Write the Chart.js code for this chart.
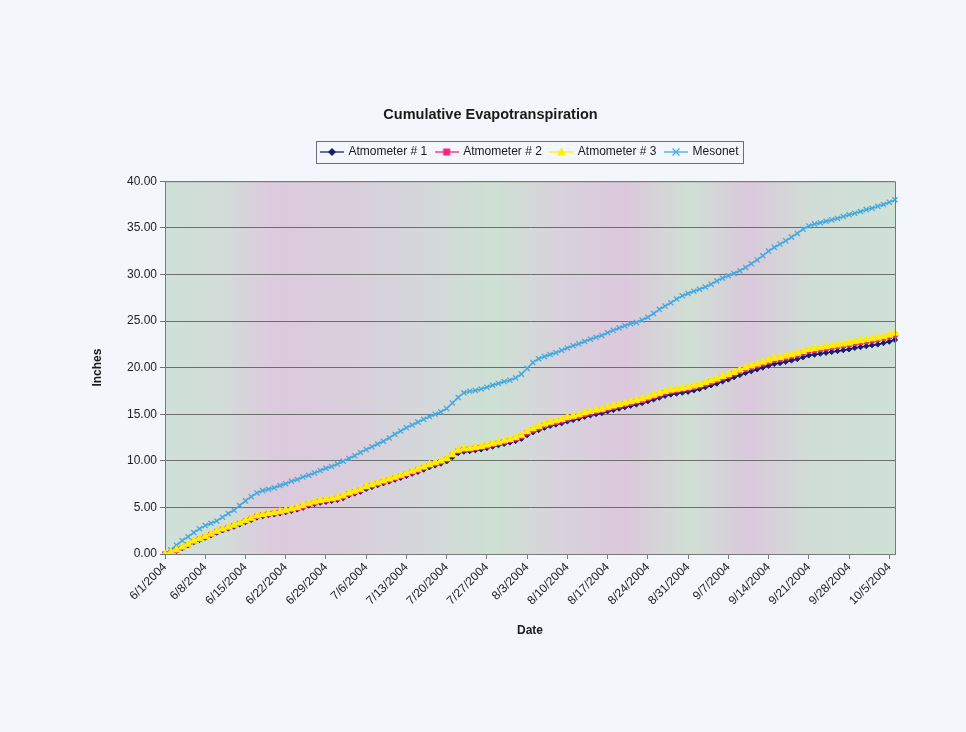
<!DOCTYPE html>
<html>
<head>
<meta charset="utf-8">
<script src="https://cdn.jsdelivr.net/npm/chart.js@4.4.1/dist/chart.umd.min.js"></script>
<style>
html,body{margin:0;padding:0;background:#f3f7fb;}
#wrap{width:966px;height:732px;}
</style>
</head>
<body>
<div id="wrap"><canvas id="c" width="966" height="732"></canvas></div>
<script>
// ---------- DATA ----------
const dates = [
'6/1/2004','6/2/2004','6/3/2004','6/4/2004','6/5/2004','6/6/2004','6/7/2004','6/8/2004','6/9/2004','6/10/2004',
'6/11/2004','6/12/2004','6/13/2004','6/14/2004','6/15/2004','6/16/2004','6/17/2004','6/18/2004','6/19/2004','6/20/2004',
'6/21/2004','6/22/2004','6/23/2004','6/24/2004','6/25/2004','6/26/2004','6/27/2004','6/28/2004','6/29/2004','6/30/2004',
'7/1/2004','7/2/2004','7/3/2004','7/4/2004','7/5/2004','7/6/2004','7/7/2004','7/8/2004','7/9/2004','7/10/2004',
'7/11/2004','7/12/2004','7/13/2004','7/14/2004','7/15/2004','7/16/2004','7/17/2004','7/18/2004','7/19/2004','7/20/2004',
'7/21/2004','7/22/2004','7/23/2004','7/24/2004','7/25/2004','7/26/2004','7/27/2004','7/28/2004','7/29/2004','7/30/2004',
'7/31/2004','8/1/2004','8/2/2004','8/3/2004','8/4/2004','8/5/2004','8/6/2004','8/7/2004','8/8/2004','8/9/2004',
'8/10/2004','8/11/2004','8/12/2004','8/13/2004','8/14/2004','8/15/2004','8/16/2004','8/17/2004','8/18/2004','8/19/2004',
'8/20/2004','8/21/2004','8/22/2004','8/23/2004','8/24/2004','8/25/2004','8/26/2004','8/27/2004','8/28/2004','8/29/2004',
'8/30/2004','8/31/2004','9/1/2004','9/2/2004','9/3/2004','9/4/2004','9/5/2004','9/6/2004','9/7/2004','9/8/2004',
'9/9/2004','9/10/2004','9/11/2004','9/12/2004','9/13/2004','9/14/2004','9/15/2004','9/16/2004','9/17/2004','9/18/2004',
'9/19/2004','9/20/2004','9/21/2004','9/22/2004','9/23/2004','9/24/2004','9/25/2004','9/26/2004','9/27/2004','9/28/2004',
'9/29/2004','9/30/2004','10/1/2004','10/2/2004','10/3/2004','10/4/2004','10/5/2004','10/6/2004'
];

const tickLabels = ['6/1/2004','6/8/2004','6/15/2004','6/22/2004','6/29/2004','7/6/2004','7/13/2004','7/20/2004',
'7/27/2004','8/3/2004','8/10/2004','8/17/2004','8/24/2004','8/31/2004','9/7/2004','9/14/2004','9/21/2004','9/28/2004','10/5/2004'];

const atmometer1 = [
0.00,0.12,0.35,0.63,0.92,1.26,1.50,1.75,2.00,2.29,
2.53,2.73,2.93,3.17,3.42,3.66,3.91,4.06,4.16,4.25,
4.35,4.48,4.62,4.77,4.96,5.20,5.35,5.50,5.60,5.70,
5.80,5.99,6.29,6.49,6.69,6.98,7.18,7.38,7.58,7.77,
7.97,8.17,8.37,8.61,8.81,9.05,9.30,9.50,9.69,9.94,
10.38,10.83,10.98,11.03,11.13,11.22,11.37,11.52,11.67,11.81,
11.96,12.12,12.36,12.75,13.05,13.29,13.54,13.74,13.89,14.03,
14.23,14.38,14.53,14.72,14.87,15.01,15.11,15.31,15.46,15.60,
15.75,15.90,16.04,16.19,16.38,16.58,16.77,16.97,17.11,17.21,
17.31,17.40,17.55,17.70,17.89,18.09,18.28,18.52,18.72,18.96,
19.20,19.42,19.61,19.80,20.00,20.19,20.39,20.48,20.62,20.77,
20.91,21.10,21.30,21.39,21.49,21.58,21.68,21.77,21.87,21.96,
22.11,22.20,22.30,22.40,22.49,22.63,22.78,22.98
];

const atmometer2 = [
0.00,0.17,0.41,0.70,1.00,1.35,1.60,1.85,2.10,2.40,
2.65,2.85,3.05,3.30,3.55,3.80,4.05,4.20,4.30,4.40,
4.50,4.62,4.76,4.91,5.10,5.35,5.50,5.65,5.75,5.85,
5.95,6.15,6.45,6.65,6.85,7.15,7.35,7.55,7.75,7.95,
8.15,8.35,8.55,8.80,9.00,9.25,9.50,9.70,9.90,10.15,
10.60,11.05,11.20,11.25,11.35,11.45,11.60,11.75,11.90,12.05,
12.20,12.36,12.61,13.00,13.30,13.55,13.80,14.00,14.15,14.30,
14.50,14.65,14.80,15.00,15.15,15.30,15.40,15.60,15.75,15.90,
16.05,16.20,16.35,16.50,16.70,16.90,17.10,17.30,17.45,17.55,
17.65,17.75,17.90,18.05,18.25,18.45,18.65,18.90,19.10,19.35,
19.60,19.82,20.02,20.22,20.42,20.62,20.82,20.92,21.07,21.22,
21.37,21.57,21.77,21.87,21.97,22.07,22.17,22.27,22.37,22.47,
22.62,22.72,22.82,22.92,23.02,23.17,23.32,23.50
];

const atmometer3 = [
0.00,0.20,0.45,0.75,1.05,1.40,1.65,1.90,2.15,2.45,
2.70,2.90,3.10,3.35,3.60,3.85,4.10,4.25,4.35,4.45,
4.55,4.70,4.85,5.00,5.20,5.45,5.60,5.75,5.85,5.95,
6.05,6.25,6.55,6.75,6.95,7.25,7.45,7.65,7.85,8.05,
8.25,8.45,8.65,8.90,9.10,9.35,9.60,9.80,10.00,10.25,
10.70,11.15,11.30,11.35,11.45,11.55,11.70,11.85,12.00,12.15,
12.30,12.50,12.75,13.15,13.45,13.70,13.95,14.15,14.30,14.45,
14.65,14.80,14.95,15.15,15.30,15.45,15.55,15.75,15.90,16.05,
16.20,16.35,16.50,16.65,16.85,17.05,17.25,17.45,17.60,17.70,
17.80,17.90,18.05,18.20,18.40,18.60,18.80,19.05,19.25,19.50,
19.75,20.00,20.20,20.40,20.60,20.80,21.00,21.10,21.25,21.40,
21.55,21.75,21.95,22.05,22.15,22.25,22.35,22.45,22.55,22.65,
22.80,22.90,23.00,23.10,23.20,23.35,23.50,23.70
];

const mesonet = [
0.00,0.45,0.95,1.45,1.85,2.30,2.70,3.05,3.30,3.55,
3.95,4.35,4.70,5.20,5.70,6.15,6.55,6.80,6.95,7.10,
7.35,7.55,7.80,8.00,8.25,8.45,8.70,8.95,9.20,9.40,
9.65,9.95,10.25,10.55,10.90,11.20,11.50,11.80,12.10,12.45,
12.85,13.20,13.55,13.85,14.15,14.45,14.75,15.00,15.25,15.60,
16.20,16.80,17.30,17.45,17.55,17.70,17.90,18.10,18.30,18.50,
18.65,18.90,19.30,19.90,20.55,20.95,21.20,21.40,21.60,21.85,
22.10,22.35,22.55,22.80,23.05,23.25,23.45,23.75,24.00,24.25,
24.50,24.70,24.85,25.10,25.40,25.80,26.25,26.60,26.95,27.35,
27.70,27.95,28.20,28.40,28.65,28.95,29.30,29.60,29.85,30.10,
30.40,30.75,31.15,31.55,32.00,32.50,32.90,33.25,33.60,34.00,
34.40,34.85,35.20,35.40,35.55,35.70,35.85,36.00,36.20,36.40,
36.55,36.75,36.95,37.10,37.30,37.50,37.75,38.00
];

const seriesNames = ['Atmometer # 1','Atmometer # 2','Atmometer # 3','Mesonet'];

// ---------- STYLE ----------
const FONT = "Arial, 'Liberation Sans', Helvetica, sans-serif";
Chart.defaults.font.family = FONT;
Chart.defaults.color = '#222222';

const C1 = '#1b1f6b', C2 = '#f2277f', C3 = '#ffee00', C4 = '#45a9de';

function icon(color, kind, fill) {
  const c = document.createElement('canvas');
  c.width = 24; c.height = 12;
  const g = c.getContext('2d');
  g.strokeStyle = color; g.lineWidth = 1.3;
  g.beginPath(); g.moveTo(0, 6); g.lineTo(24, 6); g.stroke();
  g.fillStyle = fill; g.strokeStyle = color;
  const x = 12, y = 6;
  g.beginPath();
  if (kind === 'diamond') { g.moveTo(x, y-4); g.lineTo(x+4, y); g.lineTo(x, y+4); g.lineTo(x-4, y); g.closePath(); g.fill(); }
  else if (kind === 'square') { g.rect(x-3.5, y-3.5, 7, 7); g.fill(); }
  else if (kind === 'triangle') { g.moveTo(x, y-4.5); g.lineTo(x+4.5, y+3.5); g.lineTo(x-4.5, y+3.5); g.closePath(); g.fill(); }
  else if (kind === 'x') { g.lineWidth = 1.3; g.moveTo(x-3.5, y-3.5); g.lineTo(x+3.5, y+3.5); g.moveTo(x+3.5, y-3.5); g.lineTo(x-3.5, y+3.5); g.stroke(); }
  return c;
}
const icons = [icon(C1,'diamond',C1), icon(C2,'square',C2), icon(C3,'triangle',C3), icon(C4,'x',C4)];

const bgPlugin = {
  id: 'bg',
  beforeDraw(chart) {
    const {ctx, chartArea: a} = chart;
    ctx.save();
    ctx.fillStyle = '#f3f7fb';
    ctx.fillRect(0, 0, chart.width, chart.height);
    const g = ctx.createLinearGradient(a.left, 0, a.right, 0);
    const stops = [[0,'#cfe1d8'],[0.08,'#d3dcd9'],[0.15,'#dccadd'],[0.25,'#d9cedc'],[0.35,'#d4d7da'],
      [0.45,'#cee0d3'],[0.55,'#d8d1dc'],[0.63,'#dcc8dc'],[0.72,'#d0dfd4'],[0.80,'#dac9dc'],[0.88,'#d1dcd6'],[1,'#cfe2d6']];
    stops.forEach(s => g.addColorStop(s[0], s[1]));
    ctx.fillStyle = g;
    ctx.fillRect(a.left, a.top, a.right - a.left, a.bottom - a.top);
    ctx.restore();
  },
  afterDraw(chart) {
    const {ctx, chartArea: a} = chart;
    ctx.save();
    ctx.strokeStyle = '#7a7a7a'; ctx.lineWidth = 1;
    ctx.beginPath();
    ctx.moveTo(a.left, a.top + 0.5); ctx.lineTo(a.right + 0.5, a.top + 0.5); ctx.lineTo(a.right + 0.5, a.bottom);
    ctx.stroke();
    const hb = chart.legend && chart.legend.legendHitBoxes;
    if (hb && hb.length) {
      const l = Math.min(...hb.map(h => h.left)) - 5;
      const r = Math.max(...hb.map(h => h.left + h.width)) + 5;
      const t = Math.min(...hb.map(h => h.top)) - 5;
      const b = Math.max(...hb.map(h => h.top + h.height)) + 5;
      ctx.strokeStyle = '#6d6d78';
      ctx.strokeRect(Math.round(l) + 0.5, Math.round(t) + 0.5, Math.round(r - l), Math.round(b - t));
    }
    ctx.restore();
  }
};

const ds = (label, data, color, pstyle, radius, order, bw) => ({
  label, data, borderColor: color, backgroundColor: color,
  borderWidth: 1.5, pointStyle: pstyle, pointRadius: radius, pointHoverRadius: radius,
  pointBackgroundColor: color, pointBorderColor: color, pointBorderWidth: bw,
  tension: 0, order
});

new Chart(document.getElementById('c'), {
  type: 'line',
  data: {
    labels: dates,
    datasets: [
      ds(seriesNames[0], atmometer1, C1, 'rectRot', 2.6, 2, 1),
      ds(seriesNames[1], atmometer2, C2, 'rect', 3.2, 1, 1),
      ds(seriesNames[2], atmometer3, C3, 'triangle', 4.2, 0, 1),
      ds(seriesNames[3], mesonet, C4, 'crossRot', 3.6, 3, 1.3)
    ]
  },
  options: {
    responsive: false,
    devicePixelRatio: 1,
    animation: false,
    events: [],
    layout: { padding: { left: 86, right: 71, top: 0, bottom: 90 } },
    plugins: {
      title: {
        display: true, text: 'Cumulative Evapotranspiration',
        font: { size: 14.5, weight: 'bold', family: FONT }, color: '#1a1a1a',
        padding: { top: 106, bottom: 13.6 }
      },
      subtitle: {
        display: true, text: '', weight: 500, position: 'top',
        font: { size: 1 }, padding: { top: 12, bottom: 0 }
      },
      legend: {
        display: true, position: 'top', fullSize: false,
        labels: {
          usePointStyle: true, pointStyleWidth: 21, padding: 9,
          font: { size: 12, family: FONT }, color: '#1a1a1a',
          sort: (a, b) => a.datasetIndex - b.datasetIndex,
          generateLabels: (chart) => seriesNames.map((n, i) => ({
            text: n, pointStyle: icons[i], datasetIndex: i, hidden: false,
            fillStyle: 'transparent', strokeStyle: 'transparent', lineWidth: 0, fontColor: '#1a1a1a'
          }))
        }
      },
      tooltip: { enabled: false }
    },
    scales: {
      x: {
        type: 'category', offset: false,
        grid: { drawOnChartArea: false, color: '#7a7a7a', tickLength: 5 },
        border: { color: '#7a7a7a' },
        ticks: {
          autoSkip: false, minRotation: 45, maxRotation: 45, padding: 1,
          font: { size: 12, family: FONT }, color: '#222',
          callback: function (v, i) { const l = dates[i]; return tickLabels.includes(l) ? l : null; }
        },
        title: { display: true, text: 'Date', font: { size: 12, weight: 'bold', family: FONT }, color: '#1a1a1a', padding: { top: 4, bottom: 4 } },
        afterFit: s => { s.height = 88; }
      },
      y: {
        min: 0, max: 40,
        grid: { color: '#6e6e6e', tickLength: 5 },
        border: { color: '#7a7a7a' },
        ticks: { stepSize: 5, padding: 3, font: { size: 12, family: FONT }, color: '#222', callback: v => Number(v).toFixed(2) },
        title: { display: true, text: 'Inches', font: { size: 12, weight: 'bold', family: FONT }, color: '#1a1a1a', padding: { top: 4, bottom: 4 } },
        afterFit: s => { s.width = 79; }
      }
    }
  },
  plugins: [bgPlugin]
});
</script>
</body>
</html>
